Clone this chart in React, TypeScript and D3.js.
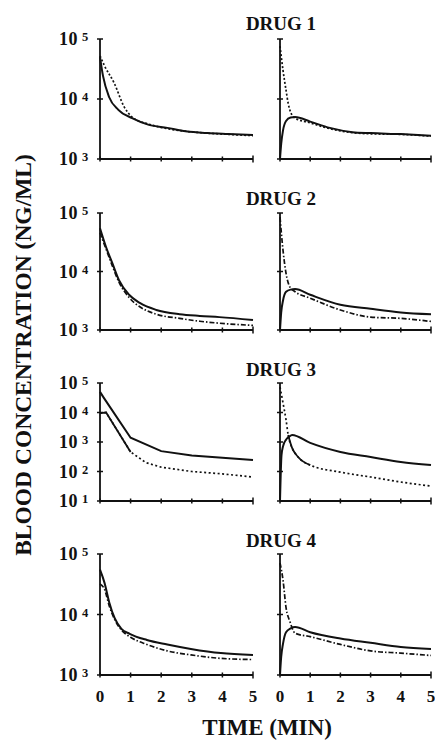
import { useRef, useEffect } from "react";
import * as d3 from "d3";

// x axis: time after dose (min)
const timeTicks = [0, 1, 2, 3, 4, 5];
const drugNames = ["DRUG 1", "DRUG 2", "DRUG 3", "DRUG 4"];
const yLowest = [1e3, 1e3, 1e1, 1e3];

// ---- Drug 1 (ng/mL) ----
const d1aSolidT = [0, 0.1, 0.3, 0.6, 1.05, 1.6, 2.2, 2.8, 3.5, 4.2, 5];
const d1aSolid = [50000, 24000, 10700, 6600, 4800, 3700, 3300, 2900, 2700, 2600, 2500];
const d1aDashT = [0, 0.15, 0.46, 0.79, 1.05, 1.6, 2.2, 2.8, 3.5, 4.2, 5];
const d1aDash = [52500, 35500, 18600, 7400, 5000, 3800, 3200, 2900, 2700, 2570, 2450];
const d1bSolidT = [0, 0.04, 0.1, 0.2, 0.35, 0.5, 1.0, 1.65, 2.4, 3.0, 4.0, 5.0];
const d1bSolid = [1000, 1800, 3000, 4300, 4900, 5000, 4200, 3300, 2800, 2700, 2600, 2450];
const d1bDashT = [0, 0.1, 0.2, 0.27, 0.36, 0.5, 1.0, 1.65, 2.4, 3, 4, 5];
const d1bDash = [76000, 30000, 14000, 8500, 5900, 4800, 4000, 3200, 2750, 2630, 2570, 2400];

// ---- Drug 2 ----
const d2aSolidT = [0, 0.2, 0.4, 0.62, 0.95, 1.3, 1.84, 2.6, 3.26, 3.9, 5];
const d2aSolid = [55000, 26000, 14000, 7100, 4000, 2900, 2200, 1860, 1740, 1660, 1480];
const d2aDashT = [0, 0.2, 0.4, 0.62, 0.95, 1.3, 1.84, 2.6, 3.26, 3.8, 5];
const d2aDash = [46000, 24000, 12600, 6600, 3600, 2500, 1860, 1580, 1410, 1320, 1200];
const d2bSolidT = [0, 0.04, 0.1, 0.2, 0.35, 0.5, 1, 2, 3, 4, 5];
const d2bSolid = [1000, 2000, 3200, 4500, 4900, 5000, 4000, 2700, 2300, 2000, 1860];
const d2bDashT = [0, 0.1, 0.2, 0.33, 0.5, 1, 2, 3, 4, 5];
const d2bDash = [85000, 23000, 9300, 5400, 4500, 3500, 2200, 1660, 1580, 1400];

// ---- Drug 3 ----
const d3aSolidT = [0, 0.12, 1, 2, 3, 4, 5];
const d3aSolid = [50000, 32000, 1400, 490, 350, 290, 245];
const d3aDashT = [0, 0.2, 1, 1.5, 2, 3, 4, 5];
const d3aDash = [9500, 10000, 460, 200, 140, 100, 83, 65];
const d3bSolidT = [0, 0.05, 0.1, 0.2, 0.3, 0.4, 1, 2, 3, 4, 5];
const d3bSolid = [10, 360, 710, 1200, 1500, 1740, 930, 460, 310, 210, 165];
const d3bDashT = [0, 0.1, 0.2, 0.27, 0.4, 0.6, 1, 2, 3, 4, 5];
const d3bDash = [72000, 21000, 5600, 1740, 630, 310, 165, 95, 65, 44, 32];

// ---- Drug 4 ----
const d4aSolidT = [0, 0.15, 0.3, 0.48, 0.7, 0.97, 1.53, 2.2, 2.97, 3.95, 5];
const d4aSolid = [55000, 33000, 16000, 8700, 5800, 4800, 3800, 3200, 2700, 2300, 2150];
const d4aDashT = [0, 0.15, 0.3, 0.5, 0.75, 1.0, 1.53, 2.2, 2.97, 3.85, 5];
const d4aDash = [32000, 26000, 14000, 7900, 5200, 4200, 3200, 2500, 2150, 1900, 1800];
const d4bSolidT = [0, 0.04, 0.1, 0.2, 0.35, 0.5, 1, 2, 3, 4, 5];
const d4bSolid = [1000, 2000, 3300, 5100, 5900, 6200, 5100, 4000, 3400, 2900, 2700];
const d4bDashT = [0, 0.1, 0.2, 0.33, 0.5, 1, 2, 3, 4, 5];
const d4bDash = [71000, 37000, 13000, 7600, 4900, 4300, 3200, 2500, 2300, 2100];

type Pt = [number, number];
const zip = (t: number[], v: number[]): Pt[] => t.map((d, i) => [d, v[i]]);

const panelData = [
  [
    { solid: zip(d1aSolidT, d1aSolid), dash: zip(d1aDashT, d1aDash) },
    { solid: zip(d1bSolidT, d1bSolid), dash: zip(d1bDashT, d1bDash) },
  ],
  [
    { solid: zip(d2aSolidT, d2aSolid), dash: zip(d2aDashT, d2aDash) },
    { solid: zip(d2bSolidT, d2bSolid), dash: zip(d2bDashT, d2bDash) },
  ],
  [
    { solid: zip(d3aSolidT, d3aSolid), dash: zip(d3aDashT, d3aDash) },
    { solid: zip(d3bSolidT, d3bSolid), dash: zip(d3bDashT, d3bDash) },
  ],
  [
    { solid: zip(d4aSolidT, d4aSolid), dash: zip(d4aDashT, d4aDash) },
    { solid: zip(d4bSolidT, d4bSolid), dash: zip(d4bDashT, d4bDash) },
  ],
];

// layout (page pixels)
const COLS = [
  { x0: 100, x1: 253 },
  { x0: 280, x1: 431 },
];
const ROWS = [
  { top: 39, bottom: 159, title: 30 },
  { top: 213, bottom: 330, title: 205 },
  { top: 383, bottom: 501, title: 376 },
  { top: 554, bottom: 675, title: 547 },
];
const dashPattern = ["2,2", "5,2,1.5,2", "2,2.5", "5,2,1.5,2"];
// stretch of the dashed curve that prints as a solid stroke (drug 3)
const solidSpan: (number[] | null)[][] = [
  [null, null],
  [null, null],
  [[0, 1], [0.27, 1]],
  [null, null],
];

const FONT = "'Liberation Serif', 'DejaVu Serif', serif";

export default function App() {
  const svgRef = useRef<SVGSVGElement>(null);

  useEffect(() => {
    if (!svgRef.current) return;
    const svg = d3.select(svgRef.current);
    svg.selectAll("*").remove();

    // Y axis title
    svg
      .append("text")
      .attr("transform", "translate(31,355) rotate(-90)")
      .attr("text-anchor", "middle")
      .attr("font-family", FONT)
      .attr("font-weight", "bold")
      .attr("font-size", "23.5px")
      .attr("fill", "#111")
      .text("BLOOD CONCENTRATION (NG/ML)");

    // X axis title
    svg
      .append("text")
      .attr("x", 267)
      .attr("y", 735)
      .attr("text-anchor", "middle")
      .attr("font-family", FONT)
      .attr("font-weight", "bold")
      .attr("font-size", "23px")
      .attr("fill", "#111")
      .text("TIME (MIN)");

    ROWS.forEach((row, r) => {
      svg
        .append("text")
        .attr("x", 281)
        .attr("y", row.title)
        .attr("text-anchor", "middle")
        .attr("font-family", FONT)
        .attr("font-weight", "bold")
        .attr("font-size", "19px")
        .attr("fill", "#111")
        .text(drugNames[r]);

      const lo = yLowest[r];
      const decades = d3.range(Math.round(Math.log10(lo)), 6).map((e) => 10 ** e);

      COLS.forEach((col, c) => {
        const x = d3.scaleLinear().domain([0, 5]).range([col.x0, col.x1]);
        const y = d3.scaleLog().domain([lo, 1e5]).range([row.bottom, row.top]);
        const g = svg.append("g");

        // axes
        g.append("line")
          .attr("x1", col.x0).attr("x2", col.x0)
          .attr("y1", row.top).attr("y2", row.bottom)
          .attr("stroke", "#111").attr("stroke-width", 1.8);
        g.append("line")
          .attr("x1", col.x0).attr("x2", col.x1)
          .attr("y1", row.bottom).attr("y2", row.bottom)
          .attr("stroke", "#111").attr("stroke-width", 1.8);

        g.selectAll(".ytick")
          .data(decades)
          .enter()
          .append("line")
          .attr("x1", col.x0 - 3)
          .attr("x2", col.x0 + 3)
          .attr("y1", (d) => y(d))
          .attr("y2", (d) => y(d))
          .attr("stroke", "#111")
          .attr("stroke-width", 1.5);

        g.selectAll(".xtick")
          .data(timeTicks)
          .enter()
          .append("line")
          .attr("x1", (d) => x(d))
          .attr("x2", (d) => x(d))
          .attr("y1", (d) => row.bottom - (d === 5 ? 3.5 : 2.5))
          .attr("y2", (d) => row.bottom + (d === 5 ? 3.5 : 2.5))
          .attr("stroke", "#111")
          .attr("stroke-width", 1.5);

        if (c === 0) {
          const lbl = g
            .selectAll(".ylab")
            .data(decades)
            .enter()
            .append("text")
            .attr("x", 59)
            .attr("y", (d) => y(d) + 6)
            .attr("font-family", FONT)
            .attr("font-weight", "bold")
            .attr("font-size", "18px")
            .attr("letter-spacing", "0.5px")
            .attr("fill", "#111");
          lbl.append("tspan").text("10");
          lbl
            .append("tspan")
            .attr("dx", 4)
            .attr("dy", -4)
            .attr("font-size", "12.5px")
            .text((d) => String(Math.round(Math.log10(d))));
        }

        if (r === ROWS.length - 1) {
          g.selectAll(".xlab")
            .data(timeTicks)
            .enter()
            .append("text")
            .attr("x", (d) => x(d))
            .attr("y", 702)
            .attr("text-anchor", "middle")
            .attr("font-family", FONT)
            .attr("font-weight", "bold")
            .attr("font-size", "17px")
            .attr("fill", "#111")
            .text((d) => String(d));
        }

        const curve = r === 2 && c === 0 ? d3.curveLinear : d3.curveMonotoneX;
        const line = d3
          .line<Pt>()
          .x((d) => x(d[0]))
          .y((d) => y(Math.max(d[1], lo)))
          .curve(curve);

        const { solid, dash } = panelData[r][c];

        g.append("path")
          .attr("d", line(dash) || "")
          .attr("fill", "none")
          .attr("stroke", "#111")
          .attr("stroke-width", 1.7)
          .attr("stroke-dasharray", dashPattern[r]);

        const span = solidSpan[r][c];
        if (span) {
          const part = dash.filter((d) => d[0] >= span[0] && d[0] <= span[1]);
          g.append("path")
            .attr("d", line(part) || "")
            .attr("fill", "none")
            .attr("stroke", "#111")
            .attr("stroke-width", 1.8);
        }

        g.append("path")
          .attr("d", line(solid) || "")
          .attr("fill", "none")
          .attr("stroke", "#111")
          .attr("stroke-width", 2);
      });
    });
  }, []);

  return (
    <svg
      ref={svgRef}
      width={435}
      height={743}
      style={{ position: "absolute", left: 0, top: 0, background: "#fff" }}
    />
  );
}
